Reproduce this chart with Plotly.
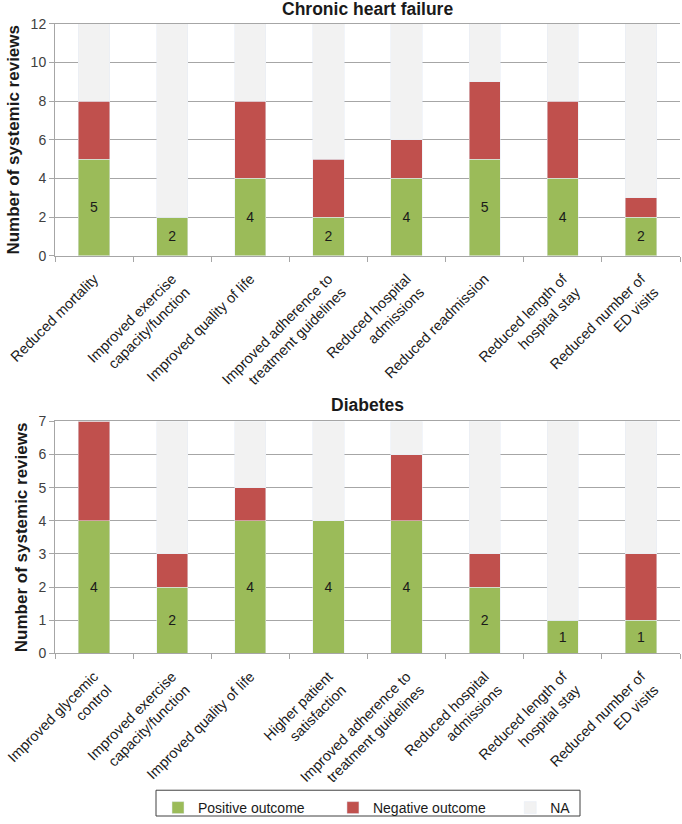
import plotly.graph_objects as go
from plotly.subplots import make_subplots

chf_categories = ["Reduced mortality", "Improved exercise<br>capacity/function", "Improved quality of life",
                  "Improved adherence to<br>treatment guidelines", "Reduced hospital<br>admissions",
                  "Reduced readmission", "Reduced length of<br>hospital stay", "Reduced number of<br>ED visits"]
chf_positive = [5, 2, 4, 2, 4, 5, 4, 2]
chf_negative = [3, 0, 4, 3, 2, 4, 4, 1]
chf_na = [4, 10, 4, 7, 6, 3, 4, 9]

dm_categories = ["Improved glycemic<br>control", "Improved exercise<br>capacity/function", "Improved quality of life",
                 "Higher patient<br>satisfaction", "Improved adherence to<br>treatment guidelines",
                 "Reduced hospital<br>admissions", "Reduced length of<br>hospital stay", "Reduced number of<br>ED visits"]
dm_positive = [4, 2, 4, 4, 4, 2, 1, 1]
dm_negative = [3, 1, 1, 0, 2, 1, 0, 2]
dm_na = [0, 4, 2, 3, 1, 4, 6, 4]

series_names = ["Positive outcome", "Negative outcome", "NA"]

GREEN = "#9bbb59"
RED = "#c0504d"
NA_C = "#f2f2f2"
FONT = "Liberation Sans, Arial, sans-serif"
W, H = 682, 824
ML, MR = 55, 2
NB = "\u00a0"

fig = make_subplots(rows=2, cols=1)

def add_chart(row, cats, pos, neg, na, show):
    dx = [c + ("" if row == 1 else "\u200b") for c in cats]
    fig.add_trace(go.Bar(x=dx, y=pos, name=series_names[0] + NB * 6, marker_color=GREEN, showlegend=show,
                         legendgroup="p", text=[str(v) for v in pos], textposition="inside",
                         insidetextanchor="middle", textangle=0,
                         textfont=dict(size=14, color="#1a1a1a", family=FONT)), row=row, col=1)
    fig.add_trace(go.Bar(x=dx, y=neg, name=series_names[1] + NB * 5, marker_color=RED, showlegend=show,
                         legendgroup="n"), row=row, col=1)
    fig.add_trace(go.Bar(x=dx, y=na, name=series_names[2], marker_color=NA_C, showlegend=show,
                         legendgroup="a"), row=row, col=1)

add_chart(1, chf_categories, chf_positive, chf_negative, chf_na, True)
add_chart(2, dm_categories, dm_positive, dm_negative, dm_na, False)

def py(p):
    return 1 - p / H

def px(p):
    return (p - ML) / (W - ML - MR)

fig.update_xaxes(showline=True, linecolor="#a6a6a6", linewidth=1, mirror=True, automargin=False,
                 tickangle=-45, ticks="outside", tickson="boundaries", ticklen=5,
                 ticklabelstandoff=8,
                 tickcolor="#a6a6a6", tickfont=dict(size=14.5, color="#1a1a1a", family=FONT),
                 domain=[0, 1])
fig.update_yaxes(showline=True, linecolor="#a6a6a6", linewidth=1, automargin=False,
                 ticks="outside", ticklen=5, tickcolor="#a6a6a6",
                 gridcolor="#a6a6a6", gridwidth=1, zeroline=False,
                 tickfont=dict(size=14, color="#404040", family=FONT),
                 title=dict(text="<b>Number of systemic reviews</b>",
                            font=dict(size=17, color="#1a1a1a", family=FONT), standoff=6))
fig.update_yaxes(range=[0, 12], dtick=2, domain=[py(258), py(24)], row=1, col=1)
fig.update_yaxes(range=[0, 7], dtick=1, domain=[py(659), py(425)], row=2, col=1)

fig.add_annotation(text="<b>Chronic heart failure</b>", x=0.5, y=py(9), xref="paper", yref="paper",
                   yanchor="middle", showarrow=False, font=dict(size=17.5, color="#1a1a1a", family=FONT))
fig.add_annotation(text="<b>Diabetes</b>", x=0.5, y=py(408), xref="paper", yref="paper",
                   yanchor="middle", showarrow=False, font=dict(size=17.5, color="#1a1a1a", family=FONT))

fig.add_shape(type="rect", xref="paper", yref="paper", x0=px(156), x1=px(580), y0=py(823), y1=py(797),
              line=dict(color="#404040", width=1), fillcolor="rgba(0,0,0,0)")

fig.update_layout(
    width=W, height=H, barmode="stack", bargap=0.6,
    margin=dict(l=ML, r=MR, t=0, b=0),
    plot_bgcolor="white", paper_bgcolor="white",
    font=dict(family=FONT),
    legend=dict(orientation="h", x=px(158), xanchor="left", y=py(799), yanchor="top",
                borderwidth=0, bgcolor="rgba(0,0,0,0)",
                font=dict(size=14, color="#1a1a1a", family=FONT),
                traceorder="normal"),
)

fig.write_html("out.html", config={"displayModeBar": False},
               post_script="document.body.style.margin='0px';")
